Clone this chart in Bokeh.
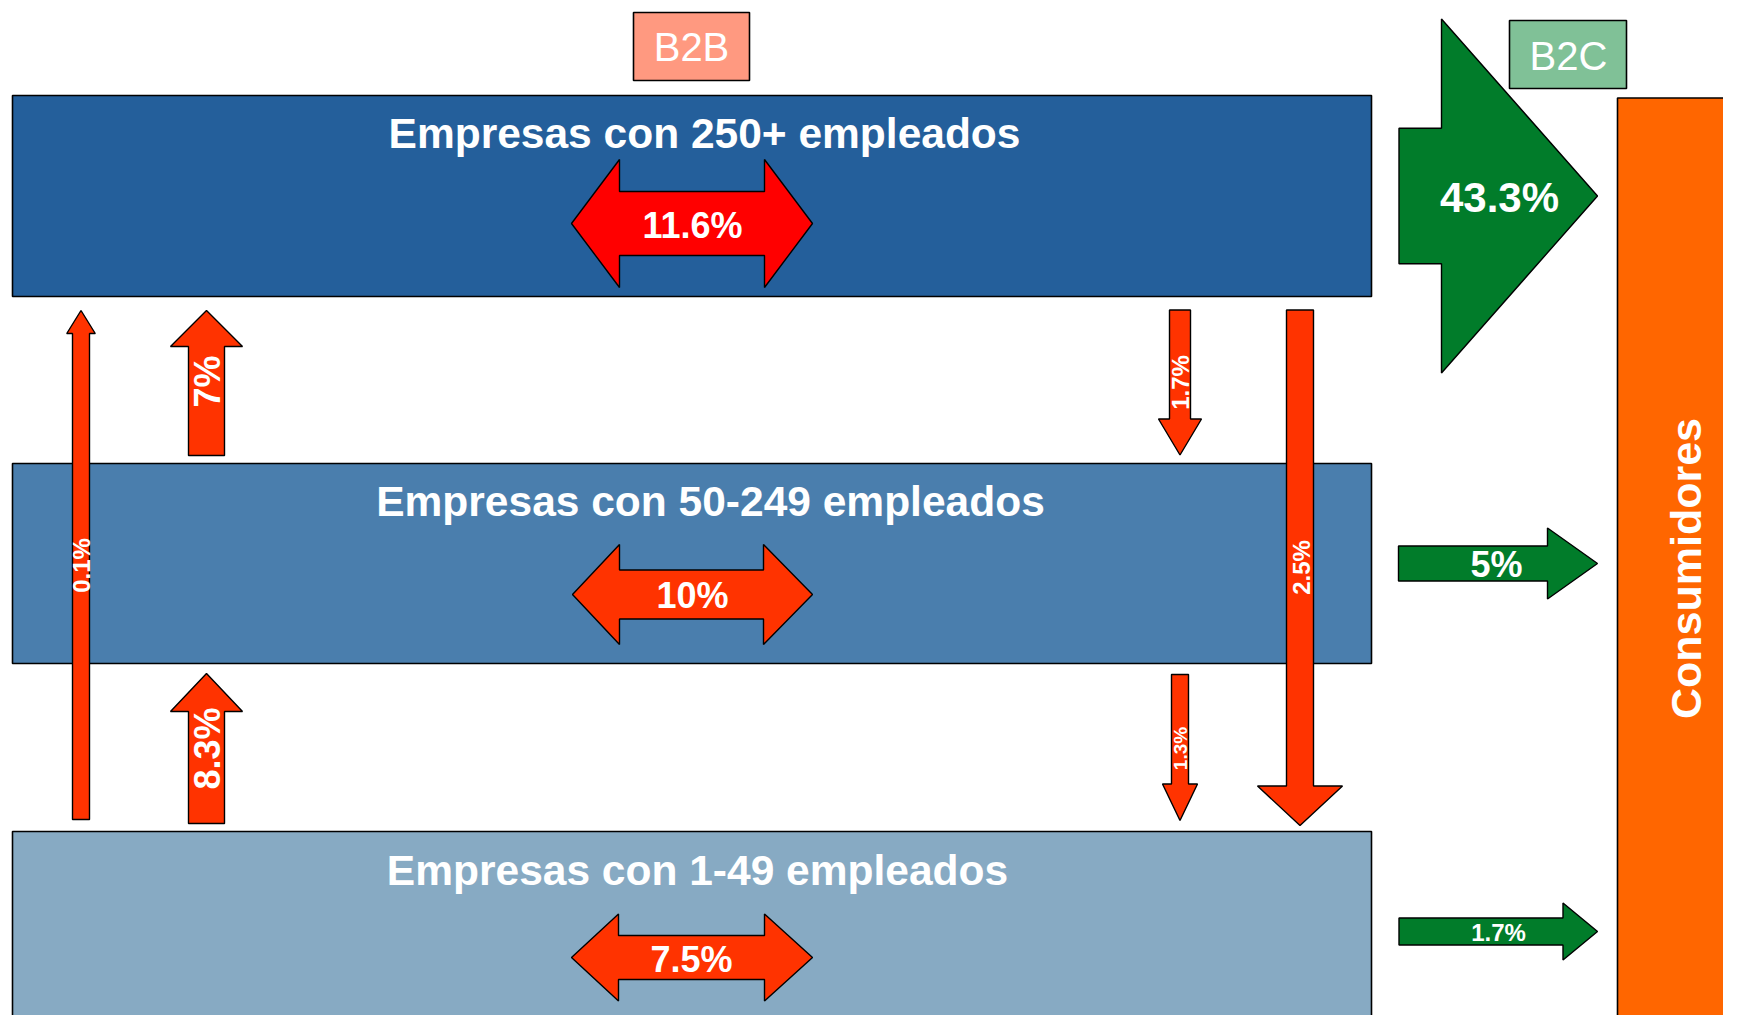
from bokeh.plotting import figure
from bokeh.models import ColumnDataSource, Range1d
from bokeh.core.properties import value
from bokeh.embed import file_html
from bokeh.resources import INLINE
import math

# ---------------- data ----------------
segments = ["Empresas con 250+ empleados",
            "Empresas con 50-249 empleados",
            "Empresas con 1-49 empleados"]
intra_pct = [11.6, 10, 7.5]          # trade within each segment (B2B)
b2c_pct = [43.3, 5, 1.7]             # sales of each segment to consumers
up_flows = ["1-49 -> 250+", "50-249 -> 250+", "1-49 -> 50-249"]
up_pct = [0.1, 7, 8.3]
down_flows = ["250+ -> 50-249", "250+ -> 1-49", "50-249 -> 1-49"]
down_pct = [1.7, 2.5, 1.3]
channel_labels = ["B2B", "B2C"]
consumer_label = "Consumidores"


def fmt(v):
    return f"{v:g}%"


# ---------------- layout / style ----------------
FONT = value("Liberation Sans")
seg_colors = ["#245F9B", "#4A7EAD", "#87AAC3"]
seg_box = [(12, 1371, 95, 296), (12, 1371, 463, 663), (12, 1371, 831, 1030)]
seg_text = [(704, 133), (710, 501), (697, 870)]

# double arrows: x0, x1, head inner x0, head inner x1, yc, head half, stem half, colour
dbl_geom = [(571, 812, 619, 764, 223, 64, 32, "#FF0000"),
            (572, 812, 619, 763, 594, 50, 24.5, "#FF3300"),
            (571, 812, 618, 764, 957, 43.5, 22, "#FF3300")]
dbl_text = [(692, 225, 36), (692, 595, 36), (691, 959, 36)]

# vertical arrows: xc, tip y, head base y, tail y, head half, stem half
up_geom = [(80.5, 310, 333, 819, 14.25, 8.5),
           (206, 310, 346, 455, 36, 18),
           (206, 673, 711, 823, 36, 18)]
up_text = [(81, 565, 24), (207, 381, 36), (207, 748, 36)]
down_geom = [(1179.5, 454.5, 418.5, 309.5, 21.5, 10.5),
             (1299.5, 825, 785.5, 309.5, 42.5, 13.5),
             (1179.5, 820, 783.5, 674, 17.5, 8.5)]
down_text = [(1180, 382, 24), (1301, 567, 24), (1180, 748, 19)]

# horizontal green arrows: tail x, head base x, tip x, yc, head half, stem half
right_geom = [(1398.5, 1441, 1597, 195.5, 177, 67.75),
              (1398, 1547, 1597, 563, 35.5, 17.5),
              (1398.5, 1562.5, 1597, 931, 28.5, 13.5)]
right_text = [(1499, 197, 42), (1496, 564, 36), (1498, 932, 24)]

RED = "#FF3300"
GREEN = "#017C2A"
ORANGE = "#FF6600"
chan_box = [(633, 749, 12, 80, "#FF9980"), (1509, 1626, 20, 88, "#80C197")]
chan_text = [(691, 46), (1568, 55)]
cons_box = (1617, 1760, 97.5, 1040)
cons_text = (1685, 568)


def dbl_arrow(x0, x1, hx0, hx1, yc, hh, sh):
    xs = [x0, hx0, hx0, hx1, hx1, x1, hx1, hx1, hx0, hx0]
    ys = [yc, yc - hh, yc - sh, yc - sh, yc - hh, yc, yc + hh, yc + sh, yc + sh, yc + hh]
    return xs, ys


def v_arrow(xc, tip, base, tail, hh, sh):
    xs = [xc, xc + hh, xc + sh, xc + sh, xc - sh, xc - sh, xc - hh]
    ys = [tip, base, base, tail, tail, base, base]
    return xs, ys


def h_arrow(tail, base, tip, yc, hh, sh):
    xs = [tail, base, base, tip, base, base, tail]
    ys = [yc - sh, yc - sh, yc - hh, yc, yc + hh, yc + sh, yc + sh]
    return xs, ys


W, H = 1723, 1015
p = figure(width=W, height=H, x_range=Range1d(0, W), y_range=Range1d(H, 0),
           output_backend="svg", toolbar_location=None, min_border=0,
           x_axis_location=None, y_axis_location=None)
p.grid.visible = False
p.outline_line_color = None
p.background_fill_color = "white"

# segment boxes
p.quad(left=[b[0] for b in seg_box], right=[b[1] for b in seg_box],
       top=[b[2] for b in seg_box], bottom=[b[3] for b in seg_box],
       fill_color=seg_colors, line_color="black", line_width=1.6)

# consumers box
p.quad(left=[cons_box[0]], right=[cons_box[1]], top=[cons_box[2]], bottom=[cons_box[3]],
       fill_color=ORANGE, line_color="black", line_width=1.6)

# channel label boxes
p.quad(left=[c[0] for c in chan_box], right=[c[1] for c in chan_box],
       top=[c[2] for c in chan_box], bottom=[c[3] for c in chan_box],
       fill_color=[c[4] for c in chan_box], line_color="black", line_width=1.6)
p.text(x=[t[0] for t in chan_text], y=[t[1] for t in chan_text], text=channel_labels,
       text_font=FONT, text_font_size="40px", text_color="white",
       text_align="center", text_baseline="middle")

# double arrows (within segment)
xs, ys, cols = [], [], []
for g in dbl_geom:
    a, b = dbl_arrow(*g[:7])
    xs.append(a); ys.append(b); cols.append(g[7])
p.patches(xs=xs, ys=ys, fill_color=cols, line_color="black", line_width=1.4)

# up / down arrows
xs, ys = [], []
for g in up_geom + down_geom:
    a, b = v_arrow(*g)
    xs.append(a); ys.append(b)
p.patches(xs=xs, ys=ys, fill_color=RED, line_color="black", line_width=1.4)

# green arrows to consumers
xs, ys = [], []
for g in right_geom:
    a, b = h_arrow(*g)
    xs.append(a); ys.append(b)
p.patches(xs=xs, ys=ys, fill_color=GREEN, line_color="black", line_width=1.4)

# segment titles
p.text(x=[t[0] for t in seg_text], y=[t[1] for t in seg_text], text=segments,
       text_font=FONT, text_font_style="bold", text_font_size="42.5px", text_color="white",
       text_align="center", text_baseline="middle")


def labels(pos, vals, angle=0.0):
    src = ColumnDataSource(dict(x=[q[0] for q in pos], y=[q[1] for q in pos],
                                t=[fmt(v) for v in vals],
                                s=[f"{q[2]}px" for q in pos]))
    p.text(x="x", y="y", text="t", text_font_size="s", source=src, angle=angle,
           text_font=FONT, text_font_style="bold", text_color="white",
           text_align="center", text_baseline="middle")


labels(dbl_text, intra_pct)
labels(right_text, b2c_pct)
labels(up_text, up_pct, angle=math.pi / 2)
labels(down_text, down_pct, angle=math.pi / 2)

p.text(x=[cons_text[0]], y=[cons_text[1]], text=[consumer_label], angle=math.pi / 2,
       text_font=FONT, text_font_style="bold", text_font_size="43px", text_color="white",
       text_align="center", text_baseline="middle")

open("out.html", "w").write(file_html(p, INLINE))
